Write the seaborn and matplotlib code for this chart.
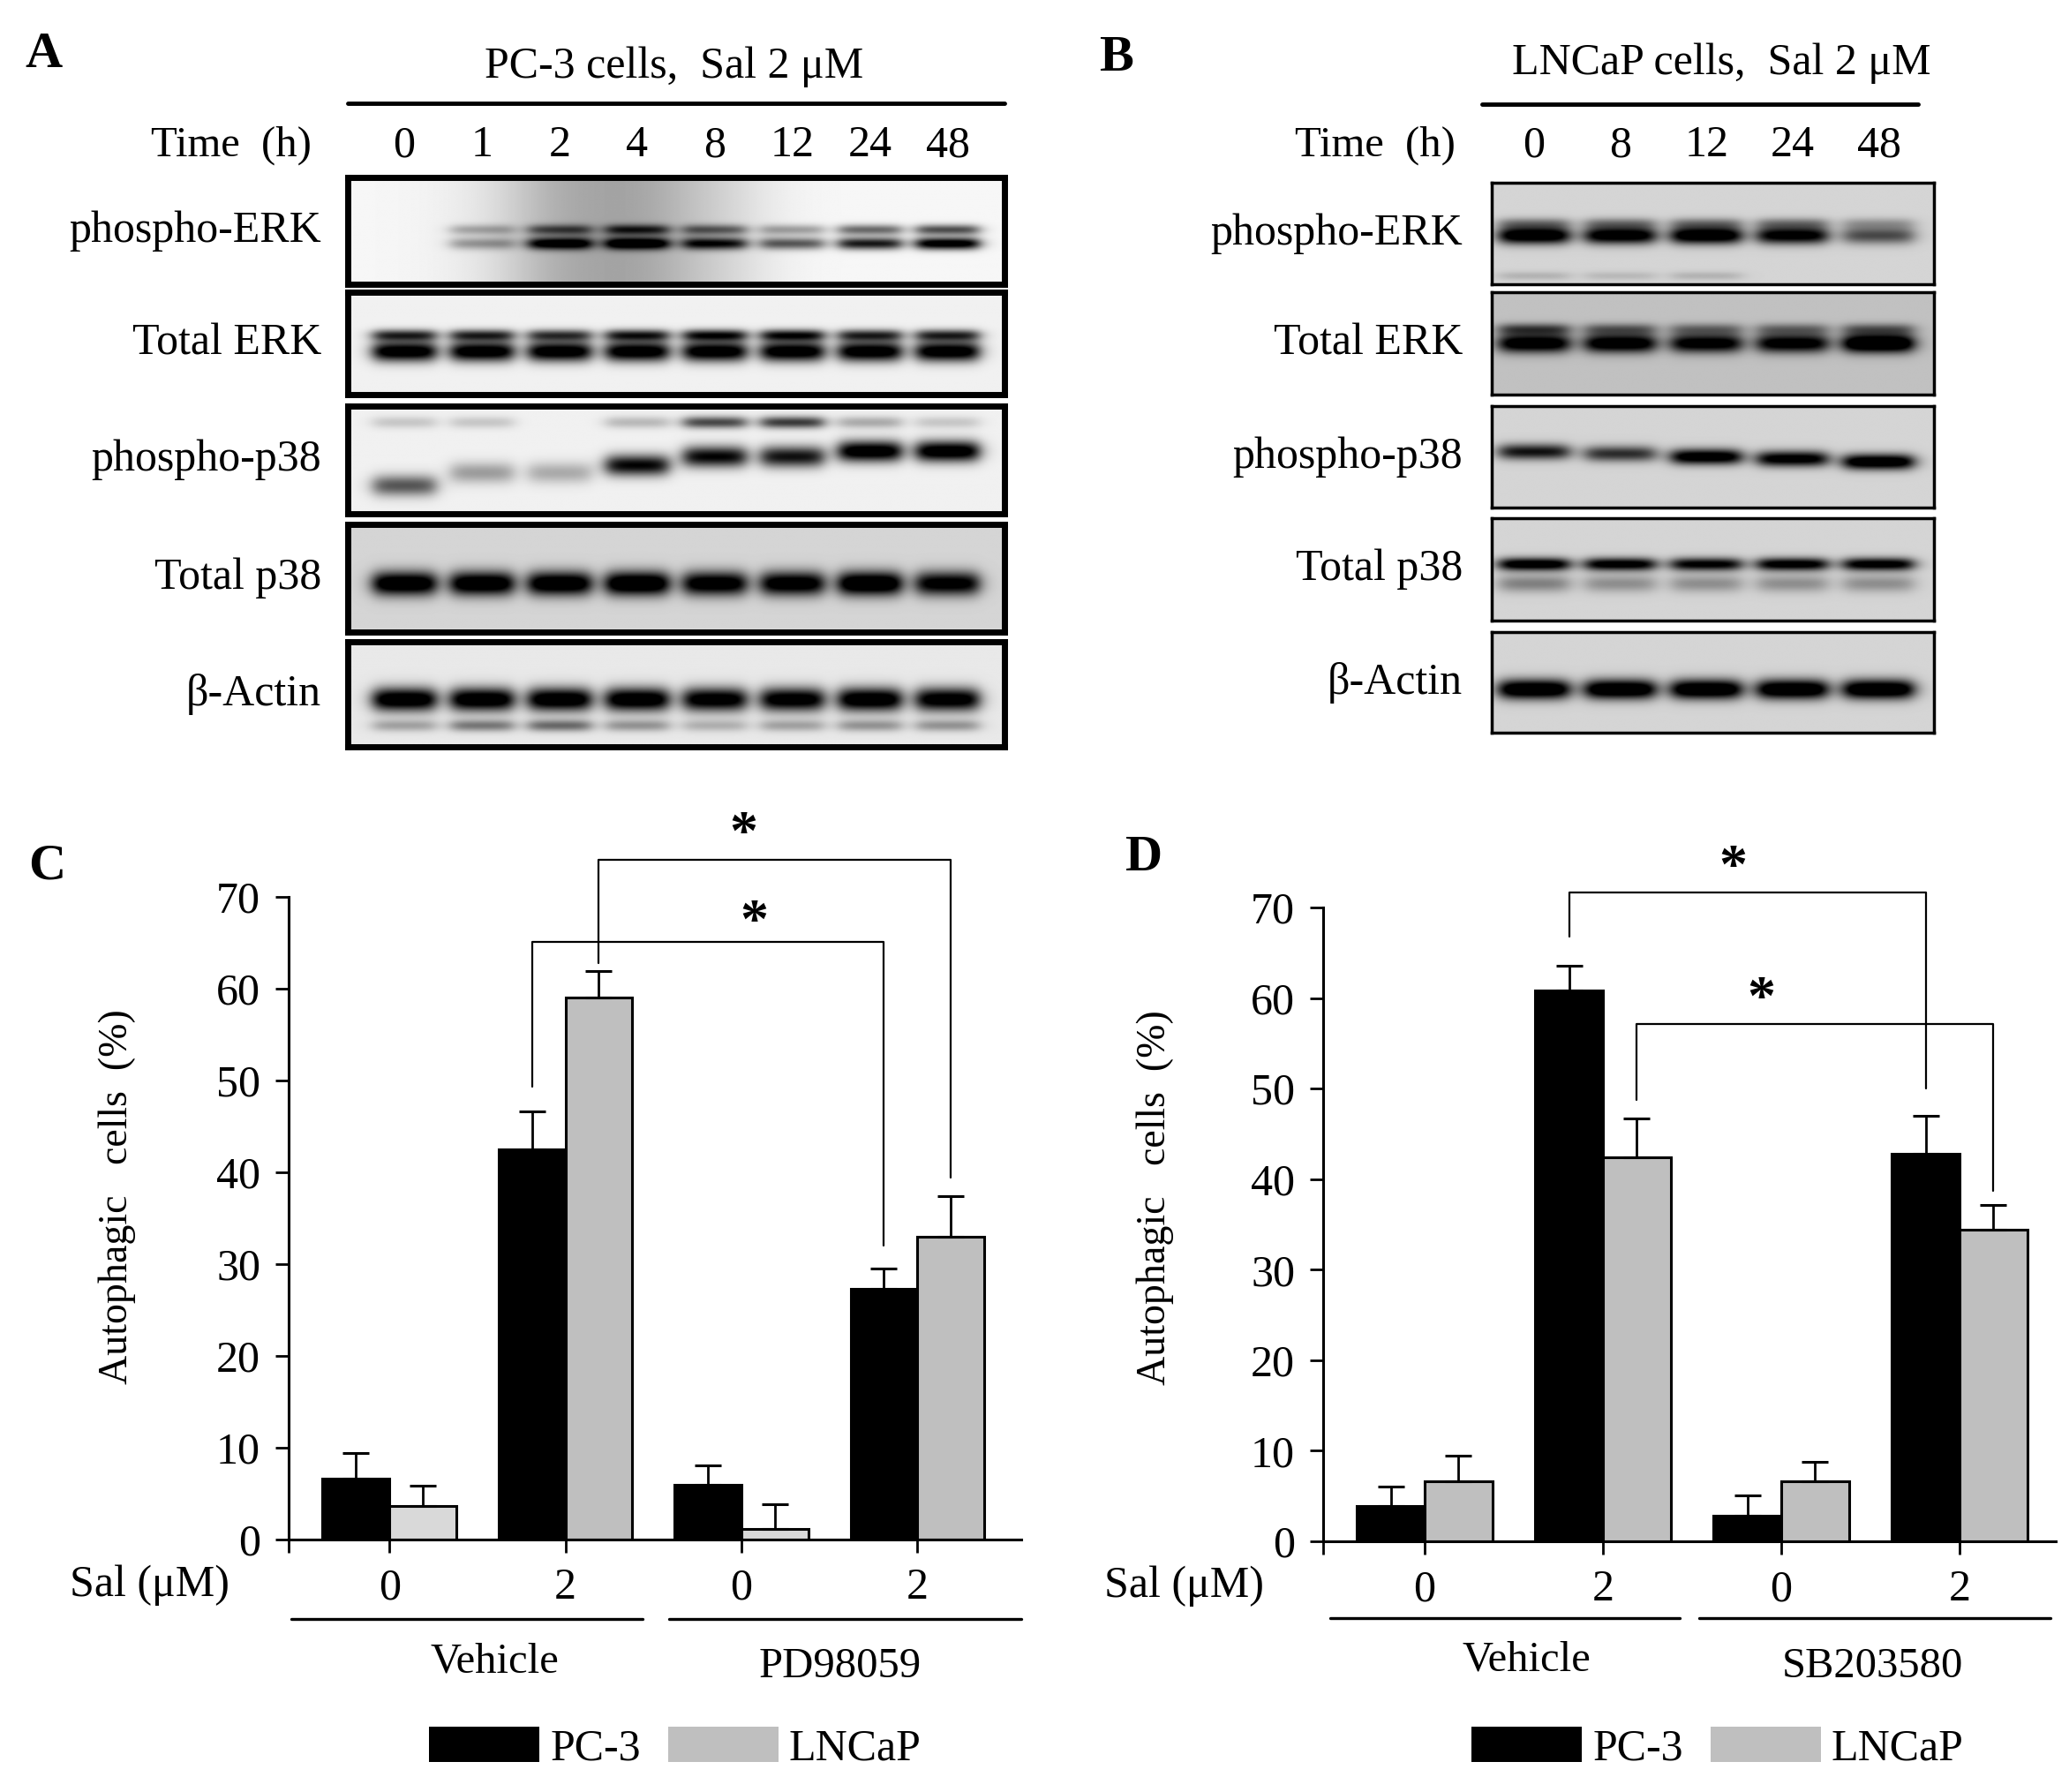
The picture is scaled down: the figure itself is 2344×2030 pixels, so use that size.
import numpy as np
import pandas as pd
import matplotlib
matplotlib.use("Agg")
import matplotlib.pyplot as plt
import matplotlib.transforms as mtrans
from matplotlib.patches import Patch
import seaborn as sns

W, H = 2344, 2030

# ---------------- western blot data (band darkness per lane, 0..1) ----------------
lanes_a = ['0', '1', '2', '4', '8', '12', '24', '48']
lanes_b = ['0', '8', '12', '24', '48']
row_names = ['phospho-ERK', 'Total ERK', 'phospho-p38', 'Total p38', 'β-Actin']

a_perk_upper = [0.0, 0.25, 0.45, 0.55, 0.45, 0.3, 0.5, 0.6]
a_perk_lower = [0.0, 0.3, 0.8, 0.85, 0.75, 0.55, 0.8, 1.0]
a_perk_haze = [0.0, 0.03, 0.2, 0.22, 0.1, 0.0, 0.0, 0.0]
a_terk_upper = [0.7, 0.7, 0.65, 0.75, 0.8, 0.8, 0.7, 0.7]
a_terk_lower = [1.0, 1.0, 1.0, 1.0, 1.0, 1.0, 1.0, 1.0]
a_pp38_main = [0.55, 0.3, 0.25, 0.85, 0.85, 0.8, 1.0, 1.0]
a_pp38_main_pos = [0.74, 0.62, 0.62, 0.55, 0.47, 0.47, 0.42, 0.42]
a_pp38_upper = [0.15, 0.15, 0.0, 0.2, 0.6, 0.65, 0.25, 0.15]
a_tp38 = [0.95, 0.95, 0.95, 1.0, 0.9, 0.9, 1.0, 0.85]
a_actin = [1.0, 1.0, 1.0, 1.0, 0.95, 0.95, 1.0, 0.95]
a_actin_lower = [0.25, 0.4, 0.45, 0.3, 0.2, 0.25, 0.3, 0.3]

b_perk = [0.95, 0.9, 0.95, 0.85, 0.5]
b_perk_upper = [0.3, 0.3, 0.3, 0.3, 0.2]
b_perk_lower = [0.12, 0.1, 0.12, 0.0, 0.0]
b_terk = [0.85, 0.85, 0.8, 0.8, 1.0]
b_terk_upper = [0.45, 0.35, 0.3, 0.3, 0.35]
b_pp38 = [0.7, 0.6, 0.9, 0.85, 0.95]
b_pp38_pos = [0.45, 0.47, 0.5, 0.52, 0.55]
b_tp38 = [0.9, 0.85, 0.8, 0.85, 0.85]
b_tp38_lower = [0.3, 0.25, 0.25, 0.25, 0.25]
b_actin = [1.0, 1.0, 1.0, 1.0, 1.0]

# ---------------- bar chart data ----------------
groups_c = ['Vehicle 0', 'Vehicle 2', 'PD98059 0', 'PD98059 2']
groups_d = ['Vehicle 0', 'Vehicle 2', 'SB203580 0', 'SB203580 2']
sal_ticks = ['0', '2', '0', '2']

c_pc3 = [6.6, 42.5, 6.0, 27.3]
c_pc3_err = [2.8, 4.1, 2.1, 2.2]
c_lncap = [3.7, 59.0, 1.2, 33.0]
c_lncap_err = [2.2, 2.9, 2.6, 4.4]

d_pc3 = [3.9, 60.8, 2.8, 42.8]
d_pc3_err = [2.1, 2.8, 2.3, 4.2]
d_lncap = [6.6, 42.4, 6.6, 34.4]
d_lncap_err = [2.9, 4.3, 2.2, 2.7]

# significance: (series, group) -> (series, group), top, left end, right end, star x, star y
c_sig = [((1, 1), (1, 3), 74.0, 62.8, 39.4, 2.01, 76.6),
         ((0, 1), (0, 3), 65.1, 49.3, 32.0, 2.07, 67.0)]
d_sig = [((0, 1), (0, 3), 71.7, 66.8, 50.0, 1.73, 74.2),
         ((1, 1), (1, 3), 57.1, 48.7, 38.7, 1.89, 59.7)]

sns.set_theme(style="ticks", rc={'axes.edgecolor': 'black', 'xtick.color': 'black',
                                 'ytick.color': 'black', 'text.color': 'black',
                                 'axes.labelcolor': 'black'})
plt.rcParams['font.family'] = ['Liberation Serif', 'DejaVu Serif']

fig = plt.figure(figsize=(W / 100, H / 100), dpi=100)


def px_axes(x0, y0, x1, y1):
    return fig.add_axes([x0 / W, 1 - y1 / H, (x1 - x0) / W, (y1 - y0) / H])


def ftext(x, y, s, **kw):
    fig.text(x / W, 1 - y / H, s, **kw)


def blot(ax, lim, bands, bg, haze=None, lw=5):
    xs = np.linspace(lim[0], lim[1], 700)
    ys = np.linspace(0, 1, 200)
    X, Y = np.meshgrid(xs, ys)
    img = np.full(X.shape, bg)
    if haze is not None:
        for i, h in enumerate(haze):
            img += h * np.exp(-((X - i) / 0.8) ** 2)
    for vals, pos, sig in bands:
        pos = np.broadcast_to(pos, (len(vals),))
        for i, (v, yc) in enumerate(zip(vals, pos)):
            across = 1 / (1 + np.exp((np.abs(X - i) - 0.4) / 0.06))
            img += v * across * np.exp(-0.5 * ((Y - yc) / sig) ** 2)
    ax.imshow(np.clip(img, 0, 1), cmap='gray_r', vmin=0, vmax=0.9, aspect='auto',
              extent=(lim[0], lim[1], 1, 0), interpolation='bilinear')
    ax.set_xlim(lim)
    ax.set_ylim(1, 0)
    ax.set_xticks([])
    ax.set_yticks([])
    for sp in ax.spines.values():
        sp.set_visible(True)
        sp.set_linewidth(lw)
        sp.set_color('black')


# ---------------- panel A ----------------
lim_a = (-0.727, 7.727)
rows_a = [(201, 322), (331, 447), (460, 582), (594, 716), (727, 846)]
spec_a = [
    (0.03, a_perk_haze, [(a_perk_upper, 0.49, 0.035), (a_perk_lower, 0.62, 0.04)]),
    (0.05, None, [(a_terk_upper, 0.42, 0.04), (a_terk_lower, 0.58, 0.07)]),
    (0.05, None, [(a_pp38_upper, 0.15, 0.04), (a_pp38_main, a_pp38_main_pos, 0.07)]),
    (0.15, None, [(a_tp38, 0.55, 0.08)]),
    (0.08, None, [(a_actin, 0.55, 0.08), (a_actin_lower, 0.8, 0.04)]),
]
axes_a = []
for (y0, y1), (bg, haze, bands), name in zip(rows_a, spec_a, row_names):
    ax = px_axes(394, y0, 1138, y1)
    blot(ax, lim_a, bands, bg, haze, lw=5)
    axes_a.append(ax)
    ftext(364, (y0 + y1) / 2, name, ha='right', va='center', fontsize=36)

ftext(49, 62, 'A', ha='center', va='center', fontsize=42, fontweight='bold')
ftext(764, 76, 'PC-3 cells,  Sal 2 μM', ha='center', va='center', fontsize=36)
fig.add_artist(plt.Line2D([394 / W, 1138 / W], [1 - 117 / H] * 2, color='black', lw=3.5))
ftext(353, 165, 'Time  (h)', ha='right', va='center', fontsize=35)
tr = mtrans.blended_transform_factory(axes_a[0].transData, fig.transFigure)
for i, lab in enumerate(lanes_a):
    axes_a[0].text(i, 1 - 165 / H, lab, transform=tr, ha='center', va='center', fontsize=36)

# ---------------- panel B ----------------
lim_b = (-0.49, 4.64)
rows_b = [(207, 322), (331, 447), (460, 575), (587, 703), (716, 830)]
spec_b = [
    (0.15, None, [(b_perk_upper, 0.4, 0.04), (b_perk, 0.52, 0.06), (b_perk_lower, 0.92, 0.03)]),
    (0.22, None, [(b_terk_upper, 0.36, 0.04), (b_terk, 0.5, 0.065)]),
    (0.15, None, [(b_pp38, b_pp38_pos, 0.055)]),
    (0.15, None, [(b_tp38, 0.45, 0.045), (b_tp38_lower, 0.64, 0.06)]),
    (0.15, None, [(b_actin, 0.57, 0.07)]),
]
axes_b = []
for (y0, y1), (bg, haze, bands), name in zip(rows_b, spec_b, row_names):
    ax = px_axes(1690, y0, 2191, y1)
    blot(ax, lim_b, bands, bg, haze, lw=2.5)
    axes_b.append(ax)
    ftext(1657, (y0 + y1) / 2, name, ha='right', va='center', fontsize=36)

ftext(1264, 66, 'B', ha='center', va='center', fontsize=42, fontweight='bold')
ftext(1950, 72, 'LNCaP cells,  Sal 2 μM', ha='center', va='center', fontsize=36)
fig.add_artist(plt.Line2D([1679 / W, 2173 / W], [1 - 118 / H] * 2, color='black', lw=3.5))
ftext(1649, 165, 'Time  (h)', ha='right', va='center', fontsize=35)
tr = mtrans.blended_transform_factory(axes_b[0].transData, fig.transFigure)
for i, lab in enumerate(lanes_b):
    axes_b[0].text(i, 1 - 165 / H, lab, transform=tr, ha='center', va='center', fontsize=36)


# ---------------- panels C and D ----------------
def bar_panel(ax, groups, pc3, pc3_err, lncap, lncap_err, lncap_colors, sig, xlim,
              lab_xy, under, names, names_xy):
    df = pd.DataFrame({'group': groups * 2,
                       'cells': ['PC-3'] * len(groups) + ['LNCaP'] * len(groups),
                       'value': pc3 + lncap})
    sns.barplot(data=df, x='group', y='value', hue='cells', palette=['black', '#bfbfbf'],
                width=0.76, edgecolor='black', linewidth=2.2, errorbar=None, legend=False,
                saturation=1, ax=ax)
    for p, c in zip(ax.containers[1], lncap_colors):
        p.set_facecolor(c)
    for cont, vals, err in zip(ax.containers, [pc3, lncap], [pc3_err, lncap_err]):
        xs = [p.get_x() + p.get_width() / 2 for p in cont]
        ax.errorbar(xs, vals, yerr=[np.zeros(len(err)), err], fmt='none', ecolor='black',
                    elinewidth=2, capsize=10.5, capthick=2.2, zorder=3)
    for (s1, g1), (s2, g2), top, yl, yr, sx, sy in sig:
        p1 = ax.containers[s1][g1]
        p2 = ax.containers[s2][g2]
        x1 = p1.get_x() + p1.get_width() / 2
        x2 = p2.get_x() + p2.get_width() / 2
        ax.plot([x1, x1, x2, x2], [yl, top, top, yr], color='black', lw=1.6, clip_on=False)
        ax.text(sx, sy, '*', ha='center', va='center', fontsize=46, fontweight='bold',
                clip_on=False)
    ax.set_ylim(0, 70)
    ax.set_yticks(range(0, 71, 10))
    ax.set_xlim(xlim)
    ax.set_xticks(range(len(groups)))
    ax.set_xticklabels(sal_ticks)
    ax.set_xticks([xlim[0]], minor=True)
    ax.set_xlabel('')
    ax.set_ylabel('Autophagic   cells  (%)', fontsize=33)
    ax.yaxis.set_label_coords(*lab_xy)
    ax.tick_params(axis='both', which='both', labelsize=36, width=2, length=11, color='black')
    ax.tick_params(axis='x', pad=12)
    ax.tick_params(axis='y', pad=12)
    sns.despine(ax=ax)
    for sp in ['left', 'bottom']:
        ax.spines[sp].set_linewidth(2.2)
    tr = mtrans.blended_transform_factory(ax.transData, ax.transAxes)
    ax.text(-0.19, -0.071, 'Sal (μM)', transform=ax.transAxes, ha='center', va='center',
            fontsize=36)
    for (a, b), y in under:
        ax.plot([a, b], [y, y], transform=tr, color='black', lw=2.4, clip_on=False)
    for name, (nx, ny) in zip(names, names_xy):
        ax.text(nx, ny, name, transform=tr, ha='center', va='center', fontsize=35)


ax_c = px_axes(327, 1016, 1157, 1744)
bar_panel(ax_c, groups_c, c_pc3, c_pc3_err, c_lncap, c_lncap_err,
          ['#d9d9d9', '#bfbfbf', '#d9d9d9', '#bfbfbf'], c_sig, (-0.573, 3.59),
          (-0.208, 0.534), [((-0.56, 1.44), -0.124), ((1.59, 3.59), -0.124)],
          ['Vehicle', 'PD98059'], [(0.6, -0.19), (2.56, -0.198)])

ax_d = px_axes(1499, 1028, 2329, 1746)
bar_panel(ax_d, groups_d, d_pc3, d_pc3_err, d_lncap, d_lncap_err,
          ['#bfbfbf'] * 4, d_sig, (-0.57, 3.54),
          (-0.204, 0.543), [((-0.53, 1.43), -0.121), ((1.54, 3.51), -0.121)],
          ['Vehicle', 'SB203580'], [(0.57, -0.188), (2.51, -0.198)])

ftext(53, 981, 'C', ha='center', va='center', fontsize=42, fontweight='bold')
ftext(1296, 972, 'D', ha='center', va='center', fontsize=42, fontweight='bold')

handles = [Patch(facecolor='black', edgecolor='none'), Patch(facecolor='#bfbfbf', edgecolor='none')]
for cx in (765, 1946):
    fig.legend(handles, ['PC-3', 'LNCaP'], loc='center', bbox_to_anchor=(cx / W, 1 - 1980 / H),
               ncol=2, frameon=False, fontsize=36, handlelength=2.5, handleheight=0.85,
               handletextpad=0.24, columnspacing=0.62, borderpad=0)

fig.savefig('out.png', dpi=100)
